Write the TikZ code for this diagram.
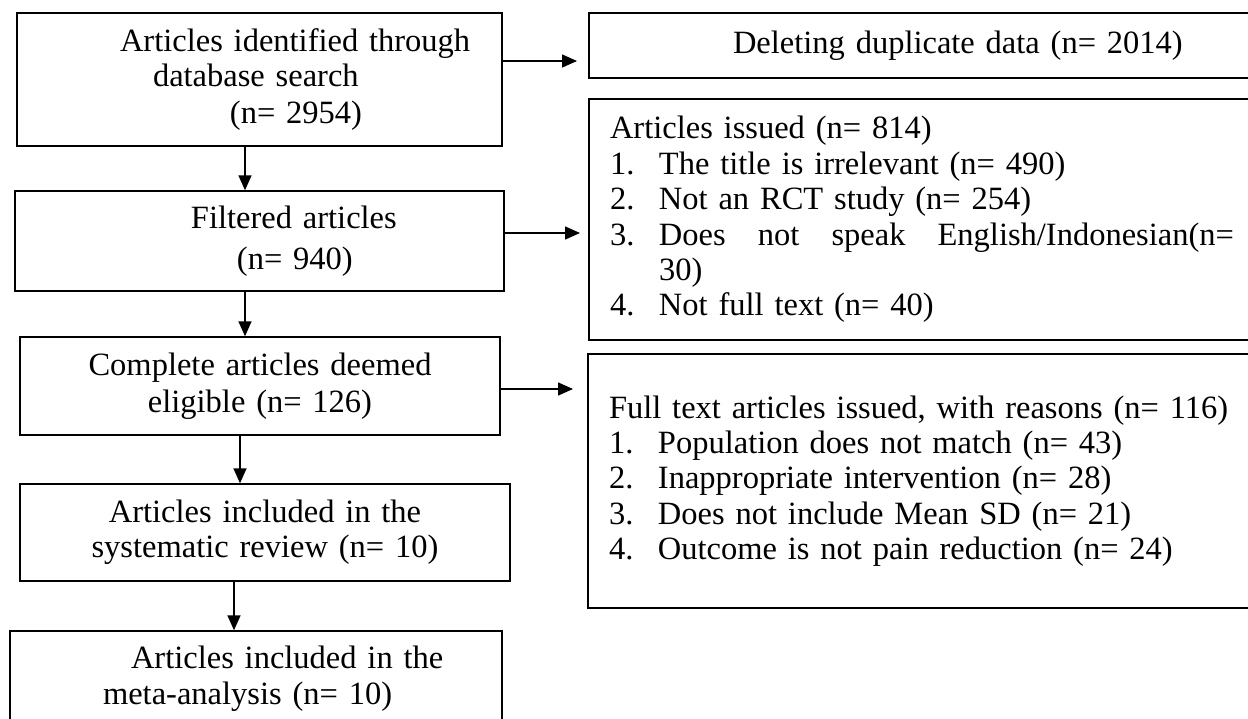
\documentclass[tikz,border=0pt]{standalone}
\usepackage{fontspec}
\setmainfont{Liberation Serif}
\usepackage{xcolor}
\usepackage{tikz}
\usetikzlibrary{arrows.meta}
\definecolor{ink}{HTML}{000000}
\tikzset{
  box/.style={draw=ink, line width=1.4pt, inner xsep=0pt, inner ysep=0pt, font=\fontsize{32.5pt}{35.4pt}\selectfont},
  note/.style={box, inner xsep=21pt, text width=631pt, align=left},
  arr/.style={draw=ink, line width=1.5pt, -{Triangle[length=15pt,width=13pt]}}
}

\begin{document}
\begin{tikzpicture}[x=1pt,y=-1pt]
  \path[use as bounding box, clip] (0,0) rectangle (1248,718);

  \node[box, align=left, text width=485pt, minimum height=133pt] (found) at (259.5,79.5)
    {\hspace*{103pt}Articles identified through\\\hspace*{136pt}database search\\[1pt]\hspace*{213pt}(n= 2954)};
  \node[box, align=left, text width=489pt, minimum height=100pt] (filt) at (259.5,241)
    {\hspace*{176pt}Filtered articles\\[5pt]\hspace*{222pt}(n= 940)};
  \node[box, align=center, text width=480pt, minimum height=98pt] (elig) at (260,386)
    {Complete articles deemed\\[2pt]eligible (n= 126)};
  \node[box, align=center, text width=490pt, minimum height=97pt] (syst) at (265,532.5)
    {Articles included in the\\systematic review (n= 10)};
  \node[box, align=left, text width=492pt, minimum height=95pt] (meta) at (256,678.5)
    {\hspace*{121pt}Articles included in the\\[1pt]\hspace*{93pt}meta-analysis (n= 10)};

  \node[note, minimum height=65pt] (dup) at (925.5,45.5)
    {\hspace*{123pt}Deleting duplicate data (n= 2014)};
  \node[note, minimum height=241pt] (scr) at (925.5,219.5)
    {Articles issued (n= 814)\\
     \makebox[49pt][l]{1.}The title is irrelevant (n= 490)\\
     \makebox[49pt][l]{2.}Not an RCT study (n= 254)\\
     \makebox[49pt][l]{3.}\makebox[575pt][s]{Does\hfill not\hfill speak\hfill English/Indonesian(n=}\\
     \hspace*{49pt}30)\\
     \makebox[49pt][l]{4.}Not full text (n= 40)};
  \node[note, minimum height=254pt] (full) at (924.5,481)
    {Full text articles issued, with reasons (n= 116)\\
     \makebox[49pt][l]{1.}Population does not match (n= 43)\\
     \makebox[49pt][l]{2.}Inappropriate intervention (n= 28)\\
     \makebox[49pt][l]{3.}Does not include Mean SD (n= 21)\\
     \makebox[49pt][l]{4.}Outcome is not pain reduction (n= 24)};

  \coordinate (dupTip) at (577,61);
  \coordinate (scrTip) at (580,233);
  \coordinate (fullTip) at (573,389);

  \draw[arr] ([xshift=-14.5pt]found.south) -- ([xshift=-14.5pt]found.south |- filt.north);
  \draw[arr] ([xshift=-14.5pt]filt.south) -- ([xshift=-14.5pt]filt.south |- elig.north);
  \draw[arr] ([xshift=-20pt]elig.south) -- ([xshift=-20pt]elig.south |- syst.north);
  \draw[arr] ([xshift=-31pt]syst.south) -- ([xshift=-31pt]syst.south |- meta.north);
  \draw[arr] (found.east |- dupTip) -- (dupTip);
  \draw[arr] (filt.east |- scrTip) -- (scrTip);
  \draw[arr] (elig.east |- fullTip) -- (fullTip); % exclusions with reasons
\end{tikzpicture}
\end{document}
